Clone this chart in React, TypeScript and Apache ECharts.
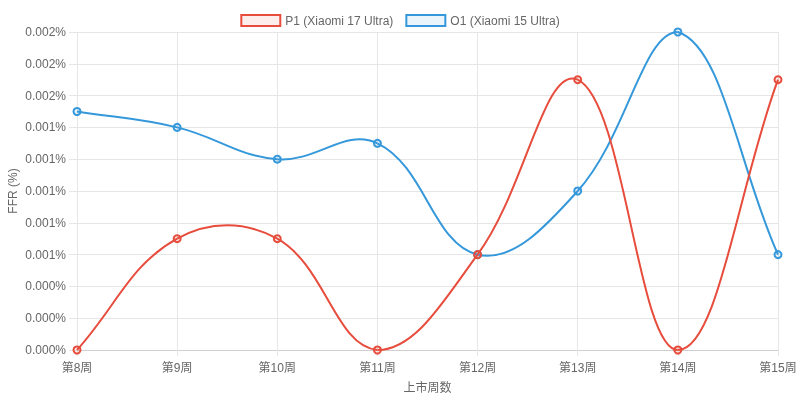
import React, { useEffect, useRef } from "react";
import * as echarts from "echarts";

const weeks = ["第8周", "第9周", "第10周", "第11周", "第12周", "第13周", "第14周", "第15周"];
const p1Values = [0, 0.0007, 0.0007, 0, 0.0006, 0.0017, 0, 0.0017];
const o1Values = [0.0015, 0.0014, 0.0012, 0.0013, 0.0006, 0.001, 0.002, 0.0006];
const p1Name = "P1 (Xiaomi 17 Ultra)";
const o1Name = "O1 (Xiaomi 15 Ultra)";

const FONT = "Arial, 'Liberation Sans', 'Noto Sans CJK SC', sans-serif";
const RED = "#e74c3c";
const BLUE = "#3498db";
const GRID = "#e6e6e6";
const TENSION = 0.4;

type P = { x: number; y: number };

// Chart.js-style spline (tension) curve, segment i -> i+1, in pixel space via api.coord
function makeRenderItem(values: number[], color: string) {
  return (params: any, api: any) => {
    const i = params.dataIndex;
    if (i >= values.length - 1) return { type: "group", children: [] };
    const cs = params.coordSys;
    const left = cs.x, right = cs.x + cs.width, top = cs.y, bottom = cs.y + cs.height;
    const pt = (k: number): P => {
      const kk = Math.max(0, Math.min(values.length - 1, k));
      const c = api.coord([kk, values[kk]]);
      return { x: c[0], y: c[1] };
    };
    const ctrl = (k: number) => {
      const cur = pt(k);
      const prev = k - 1 >= 0 ? pt(k - 1) : cur;
      const next = k + 1 < values.length ? pt(k + 1) : cur;
      const d01 = Math.hypot(cur.x - prev.x, cur.y - prev.y);
      const d12 = Math.hypot(next.x - cur.x, next.y - cur.y);
      let s01 = d01 / (d01 + d12);
      let s12 = d12 / (d01 + d12);
      if (isNaN(s01)) s01 = 0;
      if (isNaN(s12)) s12 = 0;
      const fa = TENSION * s01;
      const fb = TENSION * s12;
      const cap = (p: P): P => ({
        x: Math.max(left, Math.min(right, p.x)),
        y: Math.max(top, Math.min(bottom, p.y)),
      });
      return {
        prev: cap({ x: cur.x - fa * (next.x - prev.x), y: cur.y - fa * (next.y - prev.y) }),
        next: cap({ x: cur.x + fb * (next.x - prev.x), y: cur.y + fb * (next.y - prev.y) }),
      };
    };
    const a = pt(i);
    const b = pt(i + 1);
    const c1 = ctrl(i).next;
    const c2 = ctrl(i + 1).prev;
    const d = `M${a.x},${a.y} C${c1.x},${c1.y} ${c2.x},${c2.y} ${b.x},${b.y}`;
    return {
      type: "path",
      shape: { pathData: d },
      style: { fill: "none", stroke: color, lineWidth: 2 },
    };
  };
}

export default function App() {
  const ref = useRef<HTMLDivElement>(null);
  useEffect(() => {
    if (!ref.current) return;
    const chart = echarts.init(ref.current, undefined, { renderer: "svg" });
    const pointSeries = (name: string, values: number[], color: string, fill: string, z: number) => ({
      name,
      type: "scatter",
      data: values,
      symbol: "circle",
      symbolSize: 7,
      z,
      itemStyle: { color: fill, borderColor: color, borderWidth: 2, opacity: 1 },
    });
    const curveSeries = (name: string, values: number[], color: string, z: number) => ({
      name,
      type: "custom",
      data: values.map((v, i) => [i, v]),
      encode: { x: 0, y: 1 },
      renderItem: makeRenderItem(values, color),
      clip: false,
      z,
    });
    chart.setOption({
      animation: false,
      textStyle: { fontFamily: FONT },
      legend: {
        top: 9,
        left: "center",
        icon: "rect",
        itemWidth: 39,
        itemHeight: 11,
        itemGap: 12,
        textStyle: { color: "#666", fontSize: 12, fontFamily: FONT },
        data: [
          { name: p1Name, itemStyle: { color: "rgba(231,76,60,0.1)", borderColor: RED, borderWidth: 2 } },
          { name: o1Name, itemStyle: { color: "rgba(52,152,219,0.1)", borderColor: BLUE, borderWidth: 2 } },
        ],
      },
      grid: { left: 77, right: 22, top: 32, bottom: 51, containLabel: false, outerBoundsMode: "none" },
      xAxis: {
        type: "category",
        data: weeks,
        boundaryGap: false,
        name: "上市周数",
        nameLocation: "middle",
        nameGap: 32,
        nameMoveOverlap: false,
        nameTextStyle: { color: "#666", fontSize: 12, fontFamily: FONT },
        axisLine: { show: true, lineStyle: { color: "#cfcfcf", width: 1 } },
        axisTick: { show: true, length: 6, lineStyle: { color: GRID } },
        axisLabel: { color: "#666", fontSize: 12, margin: 12, fontFamily: FONT },
        splitLine: { show: true, lineStyle: { color: GRID, width: 1 } },
      },
      yAxis: {
        type: "value",
        min: 0,
        max: 0.002,
        interval: 0.0002,
        name: "FFR (%)",
        nameLocation: "middle",
        nameRotate: 90,
        nameGap: 58,
        nameMoveOverlap: false,
        nameTextStyle: { color: "#666", fontSize: 12, fontFamily: FONT },
        axisLine: { show: true, lineStyle: { color: GRID } },
        axisTick: { show: true, length: 8, lineStyle: { color: GRID } },
        axisLabel: {
          color: "#666",
          fontSize: 12,
          margin: 11,
          fontFamily: FONT,
          formatter: (v: number) => v.toFixed(3) + "%",
        },
        splitLine: { show: true, lineStyle: { color: GRID, width: 1 } },
      },
      series: [
        curveSeries(o1Name, o1Values, BLUE, 2),
        pointSeries(o1Name, o1Values, BLUE, "rgba(52,152,219,0.1)", 3),
        curveSeries(p1Name, p1Values, RED, 4),
        pointSeries(p1Name, p1Values, RED, "rgba(231,76,60,0.1)", 5),
      ],
    });
    return () => chart.dispose();
  }, []);
  return (
    <div
      ref={ref}
      style={{ position: "fixed", left: 0, top: 0, width: 800, height: 401 }}
    />
  );
}
